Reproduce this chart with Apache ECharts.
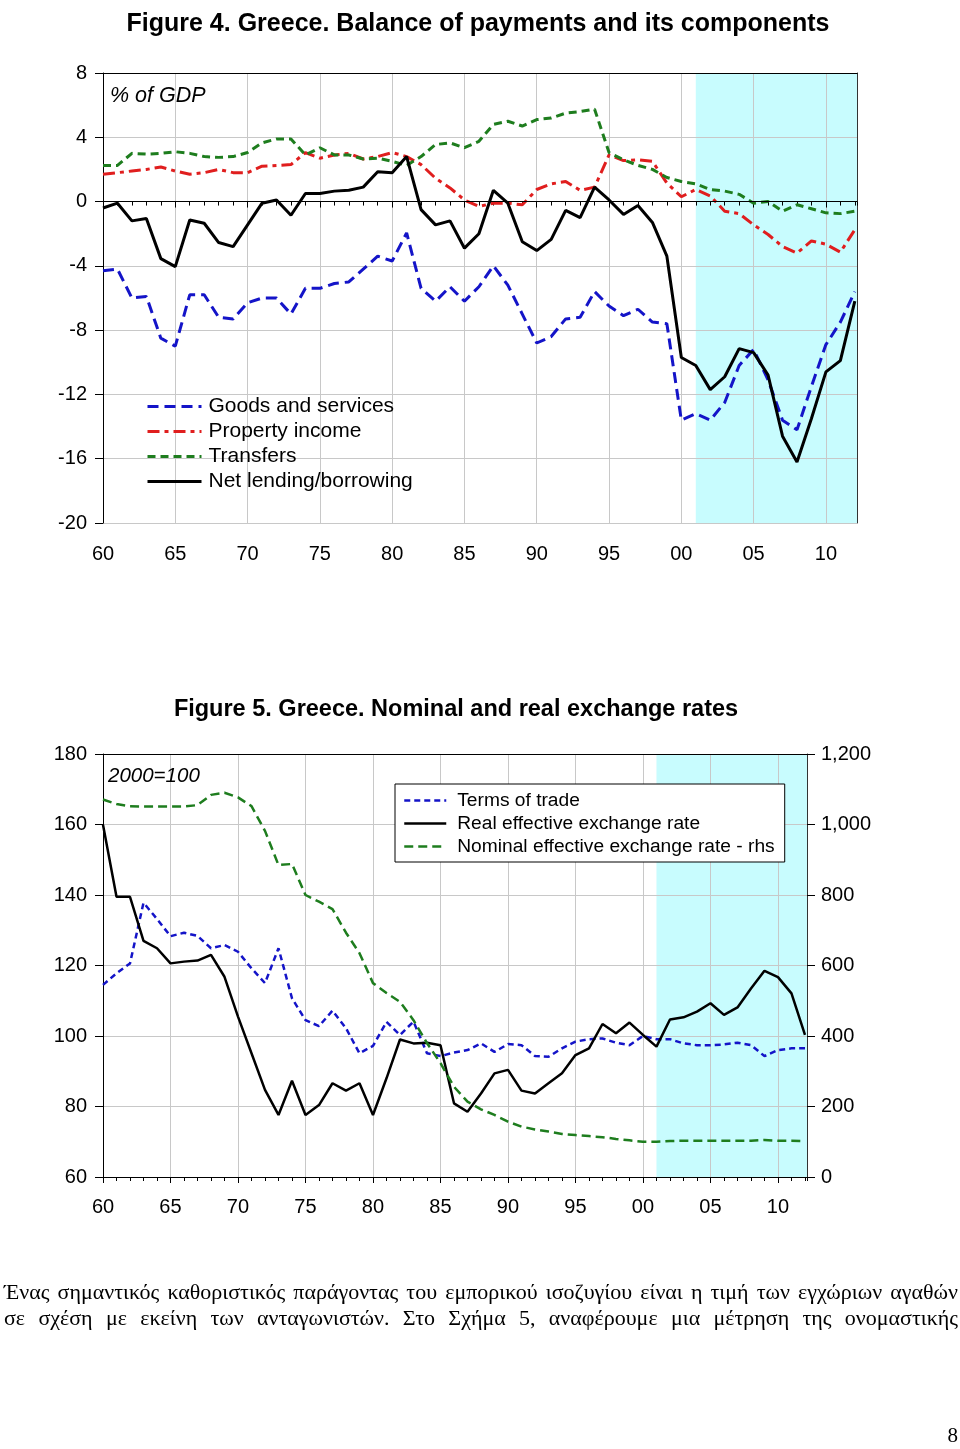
<!DOCTYPE html>
<html><head><meta charset="utf-8">
<script src="https://cdn.jsdelivr.net/npm/echarts@6/dist/echarts.min.js"></script>
<style>
html,body{margin:0;padding:0;background:#fff;}
#chart{position:absolute;left:0;top:0;width:960px;height:1449px;}
.txt{position:absolute;left:4px;width:954px;font-family:"Liberation Serif","DejaVu Serif",serif;font-size:22px;line-height:26px;text-align:justify;text-align-last:justify;color:#000;}
#pg{position:absolute;left:940px;top:1423px;width:18px;text-align:right;font-family:"Liberation Serif",serif;font-size:21px;}
</style></head>
<body>
<div id="chart"></div>
<div class="txt" style="top:1279px">Ένας σημαντικός καθοριστικός παράγοντας του εμπορικού ισοζυγίου είναι η τιμή των εγχώριων αγαθών</div>
<div class="txt" style="top:1305px">σε σχέση με εκείνη των ανταγωνιστών. Στο Σχήμα 5, αναφέρουμε μια μέτρηση της ονομαστικής</div>
<div id="pg">8</div>
<script>
const years = [1960,1961,1962,1963,1964,1965,1966,1967,1968,1969,1970,1971,1972,1973,1974,1975,1976,1977,1978,1979,1980,1981,1982,1983,1984,1985,1986,1987,1988,1989,1990,1991,1992,1993,1994,1995,1996,1997,1998,1999,2000,2001,2002,2003,2004,2005,2006,2007,2008,2009,2010,2011,2012];

// Figure 4 (% of GDP)
const goodsServices = [-4.3,-4.2,-6.0,-5.9,-8.5,-9.0,-5.8,-5.8,-7.2,-7.3, -6.3,-6.0,-6.0,-7.0,-5.4,-5.4,-5.1,-5.0,-4.2,-3.4, -3.7,-1.95,-5.4,-6.2,-5.3,-6.2,-5.3,-4.0,-5.2,-7.0, -8.8,-8.4,-7.3,-7.2,-5.6,-6.5,-7.1,-6.7,-7.5,-7.6, -13.6,-13.2,-13.6,-12.5,-10.2,-9.2,-11.1,-13.6,-14.2,-11.5, -8.9,-7.5,-5.6];
const propertyIncome = [1.7,1.8,1.9,2.0,2.15,1.9,1.7,1.8,2.0,1.8, 1.8,2.2,2.25,2.3,3.05,2.7,2.9,3.0,2.65,2.8, 3.05,2.8,2.3,1.45,0.85,0.1,-0.3,-0.1,-0.1,-0.2, 0.75,1.1,1.25,0.7,0.9,2.9,2.55,2.6,2.5,1.15, 0.3,0.75,0.35,-0.6,-0.75,-1.45,-2.05,-2.8,-3.2,-2.45, -2.65,-3.15,-1.75];
const transfers = [2.25,2.25,3.0,2.95,3.0,3.1,3.0,2.8,2.75,2.8, 3.05,3.65,3.9,3.9,2.9,3.35,2.9,2.9,2.65,2.7, 2.5,2.25,2.8,3.55,3.65,3.35,3.75,4.8,5.0,4.7, 5.1,5.2,5.5,5.6,5.75,3.05,2.6,2.25,2.0,1.5, 1.25,1.1,0.75,0.65,0.45,-0.1,0.0,-0.6,-0.2,-0.45, -0.7,-0.75,-0.6];
const netLending = [-0.4,-0.1,-1.2,-1.05,-3.55,-4.05,-1.15,-1.35,-2.55,-2.8, -1.45,-0.1,0.1,-0.85,0.5,0.5,0.65,0.7,0.9,1.85, 1.8,2.8,-0.5,-1.45,-1.2,-2.9,-2.0,0.7,-0.1,-2.5, -3.05,-2.35,-0.55,-1.0,0.9,0.1,-0.8,-0.25,-1.3,-3.4, -9.7,-10.2,-11.7,-10.9,-9.15,-9.4,-10.8,-14.6,-16.2,-13.5, -10.6,-9.9,-6.2];

// Figure 5 (2000=100)
const termsOfTrade = [114.5,117.8,120.6,137.8,133.2,128.3,129.3,128.4,124.9,125.8, 123.9,119.2,115.0,124.9,110.7,104.5,102.8,107.2,102.2,95.1, 97.2,104.0,100.3,104.1,95.1,94.3,95.3,96.0,97.9,95.5, 97.7,97.4,94.3,94.1,96.5,98.4,99.1,99.3,98.1,97.4, 100.0,99.1,99.1,97.9,97.4,97.4,97.6,98.1,97.4,94.3, 96.0,96.5,96.5];
const realEffective = [159.9,139.5,139.5,127.0,124.9,120.6,121.1,121.4,123.0,116.8, 105.5,95.1,84.7,77.6,87.3,77.6,80.4,86.6,84.5,86.6, 77.6,88.0,99.0,97.9,98.1,97.4,80.9,78.5,83.7,89.4, 90.4,84.5,83.7,86.6,89.4,94.6,96.5,103.4,100.8,103.8, 100.3,97.0,104.7,105.3,106.9,109.3,106.0,108.1,113.5,118.5, 116.7,112.1,100.3];
const nominalEffective = [1071,1058,1052,1051,1051,1051,1051,1055,1084,1090, 1077,1052,982,885,888,800,781,760,693,635, 550,522,497,445,380,323,256,214,192,176, 157,143,135,129,122,119,116,113,108,104, 100,100,102,103,103,103,103,103,103,105, 103,103,102];

const fig4Ticks = {min:-20, max:8, interval:4};
const fig5LeftTicks = {min:60, max:180, interval:20};
const fig5RightTicks = {min:0, max:1200, interval:200};
const shadeStart = 2001;
const xMin = 1960, xMax = 2012.15;

const pairs = arr => years.map((y,i)=>[y,arr[i]]);
const FONT = '"Liberation Sans", Arial, sans-serif';
const GRID_COLOR = '#c8c8c8';
const SHADE = '#c8fcfe';
const yr = v => { const r = Math.round(v)%100; return (r<10?'0':'')+r; };

function mainX(gridIndex, margin){
  return {type:'value', gridIndex, min:xMin, max:xMax, interval:5, position:'bottom', z:2,
    axisLine:{show:true, lineStyle:{color:'#000', width:1}},
    axisTick:{show:true, length:6, lineStyle:{color:'#000'}},
    splitLine:{show:true, lineStyle:{color:GRID_COLOR, width:1}},
    axisLabel:{show:true, formatter:yr, color:'#000', fontFamily:FONT, fontSize:20, margin, showMaxLabel:false}};
}
function minorX(gridIndex){
  return {type:'value', gridIndex, min:xMin, max:xMax, interval:1, position:'bottom', z:2,
    axisLine:{show:false}, axisTick:{show:true, length:4, lineStyle:{color:'#000'}},
    splitLine:{show:false}, axisLabel:{show:false}};
}
function topX(gridIndex){
  return {type:'value', gridIndex, min:xMin, max:xMax, position:'top', z:2,
    axisLine:{show:true, lineStyle:{color:'#000', width:1}}, axisTick:{show:false},
    splitLine:{show:false}, axisLabel:{show:false}};
}

const chart = echarts.init(document.getElementById('chart'));
const option = {
  animation:false,
  backgroundColor:'#fff',
  graphic:[
    {type:'text', x:478, y:24, style:{text:'Figure 4. Greece. Balance of payments and its components', font:'bold 25px '+FONT, fill:'#000', textAlign:'center', textVerticalAlign:'middle'}},
    {type:'text', x:456, y:710, style:{text:'Figure 5. Greece. Nominal and real exchange rates', font:'bold 23.5px '+FONT, fill:'#000', textAlign:'center', textVerticalAlign:'middle'}},
    {type:'text', x:110, y:96, z:10, style:{text:'% of GDP', font:'italic 21.5px '+FONT, fill:'#000', textVerticalAlign:'middle'}},
    {type:'text', x:108, y:776, z:10, style:{text:'2000=100', font:'italic 20.5px '+FONT, fill:'#000', textVerticalAlign:'middle'}}
  ],
  grid:[
    {left:103, top:73, width:754, height:450, show:false},
    {left:103, top:754, width:704, height:423, show:false}
  ],
  xAxis:[ mainX(0,21), minorX(0), topX(0), mainX(1,20), minorX(1), topX(1) ],
  yAxis:[
    {type:'value', gridIndex:0, position:'left', z:2, min:fig4Ticks.min, max:fig4Ticks.max, interval:fig4Ticks.interval,
      axisLine:{show:true, lineStyle:{color:'#000'}}, axisTick:{show:true, length:8, lineStyle:{color:'#000'}},
      splitLine:{show:true, lineStyle:{color:GRID_COLOR}},
      axisLabel:{color:'#000', fontFamily:FONT, fontSize:20, margin:16}},
    {type:'value', gridIndex:0, position:'right', z:2, min:fig4Ticks.min, max:fig4Ticks.max, interval:fig4Ticks.interval,
      axisLine:{show:true, lineStyle:{color:'#333'}}, axisTick:{show:false}, splitLine:{show:false}, axisLabel:{show:false}},
    {type:'value', gridIndex:1, position:'left', z:2, min:fig5LeftTicks.min, max:fig5LeftTicks.max, interval:fig5LeftTicks.interval,
      axisLine:{show:true, lineStyle:{color:'#000'}}, axisTick:{show:true, length:8, lineStyle:{color:'#000'}},
      splitLine:{show:true, lineStyle:{color:GRID_COLOR}},
      axisLabel:{color:'#000', fontFamily:FONT, fontSize:20, margin:16}},
    {type:'value', gridIndex:1, position:'right', z:2, min:fig5RightTicks.min, max:fig5RightTicks.max, interval:fig5RightTicks.interval,
      axisLine:{show:true, lineStyle:{color:'#333'}}, axisTick:{show:true, length:8, lineStyle:{color:'#000'}},
      splitLine:{show:false},
      axisLabel:{color:'#000', fontFamily:FONT, fontSize:20, margin:14, formatter:v=>v.toLocaleString('en-US')}}
  ],
  legend:[
    {data:['Goods and services','Property income','Transfers','Net lending/borrowing'], orient:'vertical',
      left:146, top:396, itemWidth:54, itemHeight:14, itemGap:4, padding:0,
      itemStyle:{opacity:0}, lineStyle:{width:3},
      textStyle:{fontFamily:FONT, fontSize:21, color:'#000', padding:[0,0,0,2]}},
    {data:['Terms of trade','Real effective exchange rate','Nominal effective exchange rate - rhs'], orient:'vertical',
      left:395, top:784, itemWidth:42, itemHeight:14, itemGap:4, padding:[7,10,6,8],
      itemStyle:{opacity:0}, lineStyle:{width:2.5},
      borderColor:'#000', borderWidth:1, backgroundColor:'#fff',
      textStyle:{fontFamily:FONT, fontSize:19.2, color:'#000', padding:[0,0,0,6]}}
  ],
  series:[
    {name:'shade4', type:'line', xAxisIndex:0, yAxisIndex:0, data:[], z:1, silent:true,
      markArea:{silent:true, itemStyle:{color:SHADE}, data:[[{xAxis:shadeStart},{xAxis:xMax}]]}},
    {name:'Goods and services', type:'line', xAxisIndex:0, yAxisIndex:0, data:pairs(goodsServices), symbol:'none', z:3,
      lineStyle:{color:'#1414c8', width:3, type:[11,6]}, itemStyle:{color:'#1414c8'}},
    {name:'Property income', type:'line', xAxisIndex:0, yAxisIndex:0, data:pairs(propertyIncome), symbol:'none', z:3,
      lineStyle:{color:'#e01e1e', width:3, type:[12,5,4,5]}, itemStyle:{color:'#e01e1e'}},
    {name:'Transfers', type:'line', xAxisIndex:0, yAxisIndex:0, data:pairs(transfers), symbol:'none', z:3,
      lineStyle:{color:'#1e7d1e', width:3, type:[8,5]}, itemStyle:{color:'#1e7d1e'}},
    {name:'Net lending/borrowing', type:'line', xAxisIndex:0, yAxisIndex:0, data:pairs(netLending), symbol:'none', z:3,
      lineStyle:{color:'#000', width:3}, itemStyle:{color:'#000'},
      markLine:{silent:true, symbol:'none', label:{show:false}, lineStyle:{color:'#000', width:1, type:'solid'}, data:[{yAxis:0}]}},

    {name:'shade5', type:'line', xAxisIndex:3, yAxisIndex:2, data:[], z:1, silent:true,
      markArea:{silent:true, itemStyle:{color:SHADE}, data:[[{xAxis:shadeStart},{xAxis:xMax}]]}},
    {name:'Terms of trade', type:'line', xAxisIndex:3, yAxisIndex:2, data:pairs(termsOfTrade), symbol:'none', z:3,
      lineStyle:{color:'#1414c8', width:2.5, type:[6,4]}, itemStyle:{color:'#1414c8'}},
    {name:'Real effective exchange rate', type:'line', xAxisIndex:3, yAxisIndex:2, data:pairs(realEffective), symbol:'none', z:3,
      lineStyle:{color:'#000', width:2.5}, itemStyle:{color:'#000'}},
    {name:'Nominal effective exchange rate - rhs', type:'line', xAxisIndex:3, yAxisIndex:3, data:pairs(nominalEffective), symbol:'none', z:3,
      lineStyle:{color:'#1e7d1e', width:2.5, type:[9,5]}, itemStyle:{color:'#1e7d1e'}}
  ]
};
chart.setOption(option);
</script>
</body></html>
